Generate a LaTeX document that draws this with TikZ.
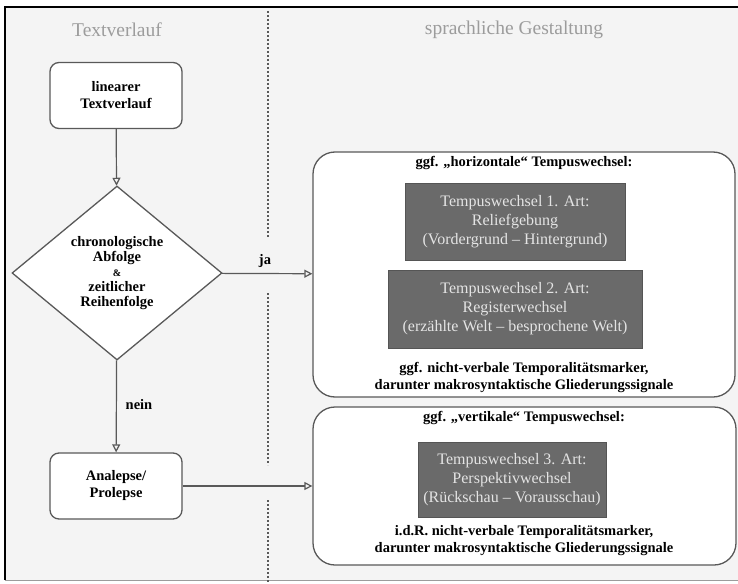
\documentclass[tikz,border=0pt]{standalone}
\usepackage{fontspec}
\setmainfont{Liberation Serif}
\usetikzlibrary{shapes.geometric,arrows.meta}
\definecolor{framebg}{HTML}{F4F4F4}
\definecolor{linegray}{HTML}{595959}
\definecolor{headgray}{HTML}{9C9C9C}
\definecolor{darkfill}{HTML}{6A6A6A}
\definecolor{lighttext}{HTML}{E4E4E4}

\begin{document}
\begin{tikzpicture}
[every node/.style={inner sep=0pt, align=center, font=\bfseries\fontsize{14.5}{17}\selectfont},
 flowbox/.style={rectangle, rounded corners=9pt, minimum width=132pt, minimum height=66pt, fill=white, line width=1.3pt, draw=linegray},
 decision/.style={diamond, aspect=1.2, minimum width=210pt, minimum height=174pt, fill=white, line width=1.3pt, draw=linegray, font=\bfseries\fontsize{14.5}{15.2}\selectfont},
 groupbox/.style={rectangle, rounded corners=22pt, fill=white, line width=1.3pt, draw=linegray},
 tempusbox/.style={rectangle, fill=darkfill, draw=darkfill!80!black, line width=0.8pt, text=lighttext, font=\fontsize{16}{19}\selectfont},
 headline/.style={text=headgray, font=\fontsize{19.5}{22}\selectfont},
 flowarrow/.style={line width=1.2pt, color=linegray, -{Triangle[open, length=8pt, width=8pt]}},
 divider/.style={line width=1.8pt, color=linegray, dash pattern=on 1.8pt off 2.2pt}]
% frame and background
\useasboundingbox (0pt, 0pt) rectangle (738pt, -583pt);
\fill [white] (0pt, 0pt) rectangle (738pt, -583pt);
\fill [framebg] (5pt, -7pt) rectangle (738pt, -580pt);
\draw [line width=2pt, color=black] (5pt, -580pt) -- (5pt, -7pt) -- (738pt, -7pt);
\draw [line width=0.8pt, color=headgray] (5pt, -580pt) -- (738pt, -580pt);
% column separator
\draw [divider] (268pt, -11pt) -- (268pt, -238pt);
\draw [divider] (268pt, -293pt) -- (268pt, -465pt);
\draw [divider] (268pt, -500pt) -- (268pt, -583pt);
% headings
\node (hleft) [headline] at (117pt, -30pt) {Textverlauf};
\node (hright) [headline] at (514pt, -30pt) {sprachliche Gestaltung};
% left column
\node (linear) [flowbox] at (116pt, -95.5pt) {linearer\\Textverlauf};
\node (chrono) [decision] at (117pt, -273pt) {chronologische\\Abfolge\\{\fontsize{10}{12}\selectfont\&}\\zeitlicher\\Reihenfolge};
\node (analepse) [flowbox] at (116pt, -486pt) {Analepse/\\Prolepse};
% right column, upper group
\node (horiz) [groupbox, minimum width=422pt, minimum height=245pt] at (524pt, -274.5pt) {};
\node (horiztitle) at (524pt, -163pt) {ggf. „horizontale“ Tempuswechsel:};
\node (tw1) [tempusbox, minimum width=220pt, minimum height=77pt] at (515pt, -221.5pt) {Tempuswechsel 1. Art:\\Reliefgebung\\(Vordergrund – Hintergrund)};
\node (tw2) [tempusbox, minimum width=254pt, minimum height=78pt] at (515pt, -309pt) {Tempuswechsel 2. Art:\\Registerwechsel\\(erzählte Welt – besprochene Welt)};
\node (horizfoot) at (524pt, -377pt) {ggf. nicht-verbale Temporalitätsmarker,\\darunter makrosyntaktische Gliederungssignale};
% right column, lower group
\node (vert) [groupbox, minimum width=423pt, minimum height=158pt] at (524.5pt, -486pt) {};
\node (verttitle) at (524pt, -418pt) {ggf. „vertikale“ Tempuswechsel:};
\node (tw3) [tempusbox, minimum width=188pt, minimum height=75pt] at (512pt, -479.5pt) {Tempuswechsel 3. Art:\\Perspektivwechsel\\(Rückschau – Vorausschau)};
\node (vertfoot) at (524pt, -541pt) {i.d.R. nicht-verbale Temporalitätsmarker,\\darunter makrosyntaktische Gliederungssignale};
% connectors
\draw [flowarrow] (linear) to (chrono);
\draw [flowarrow] (chrono) to (horiz);
\draw [flowarrow] (chrono) to (analepse);
\draw [flowarrow] (analepse) to (vert);
\node (ja) at (265pt, -261pt) {ja};
\node (nein) at (139pt, -405pt) {nein};
\end{tikzpicture}
\end{document}
